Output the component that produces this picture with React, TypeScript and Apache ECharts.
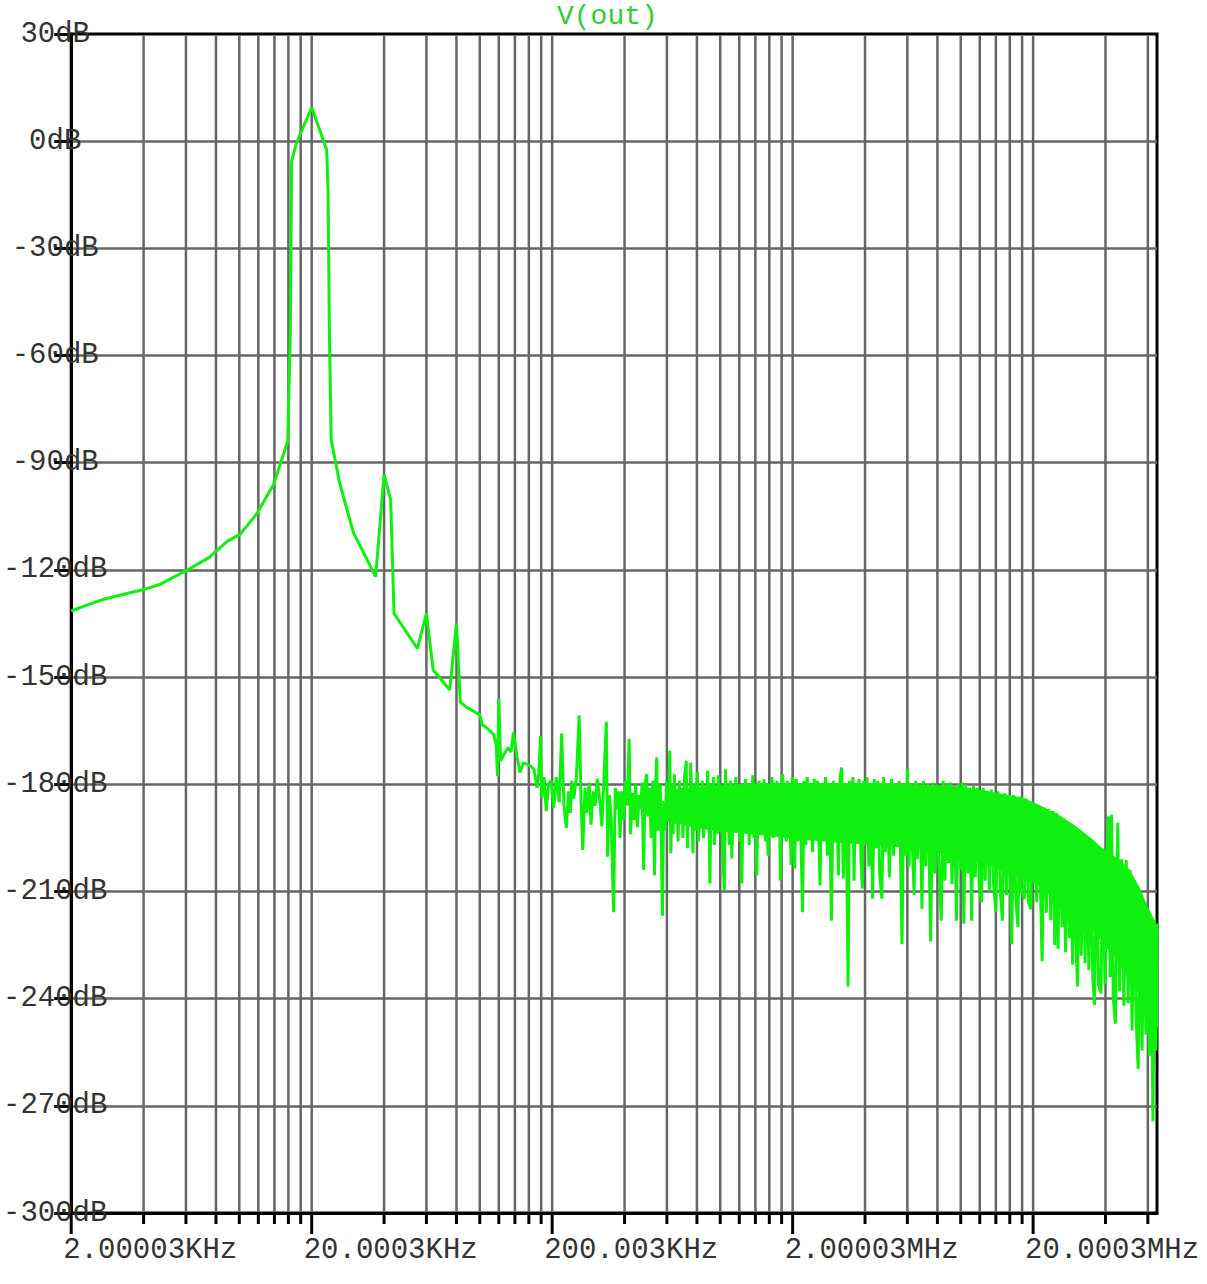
import React, { useEffect, useRef } from 'react';
import * as echarts from 'echarts';

// ---- data (frequency in kHz, level in dB) ----
const lowTrace: [number, number][] = [
  [2.0, -131.5], [2.4, -129.5], [2.8, -128], [4.0, -125.5], [4.7, -124], [6.1, -120], [7.5, -116.5],
  [8.9, -112], [10.1, -110], [11.9, -104], [13.9, -96], [15.9, -84], [16.3, -53.5], [16.5, -5.5],
  [17.3, -0.5], [20.0, 9.5], [23.1, -2.5], [23.4, -14.5], [23.7, -53.5], [24.1, -83.5], [26.1, -95.5],
  [29.8, -109.5], [36.9, -121.9], [40.0, -93.3], [42.6, -100.3], [44.0, -132.2], [55.0, -142],
  [60.0, -132.2], [64.0, -148], [75.0, -153.6], [80.0, -135], [83.0, -157], [88.0, -158.4],
  [95, -159.7], [100, -160.5], [102.6, -163.5],
];

const midTrace: [number, number][] = [
  [104, -163.6], [110, -165], [114, -166], [117, -168.8], [118.5, -177.7], [120, -156], [122, -173.4],
  [131, -169.7], [135, -171], [138, -165.5], [143, -172.5], [147, -176.7], [152, -174], [157, -174.4],
  [163, -175], [168, -175.8], [173, -181], [176, -177], [179, -166.5], [181, -183.8], [185, -178],
  [189, -187.5], [193, -180], [198, -179], [203, -186.6], [208, -178], [214, -185], [219, -165.8],
  [224, -186], [229, -192.3], [234, -182], [238, -188], [241, -179], [246, -184], [252, -178.5],
  [259, -160.7], [264, -185], [268, -198.4], [274, -181], [279, -188], [285, -179.5], [290, -191.3],
  [296, -182], [302, -186], [308, -178.5], [315, -184], [322, -191.8], [328, -179], [336, -162.5],
  [340, -200.3], [346, -183], [352, -190], [360, -215.8], [366, -181], [372, -187], [378, -182],
  [383, -195], [390, -182], [396, -190], [403, -179], [410, -186], [418, -167.3], [424, -194],
  [431, -182.4], [438, -190], [445, -180], [452, -192], [460, -183], [467, -187], [473, -179.5],
  [480, -204], [487, -180], [494, -177.2], [500, -189], [508, -181], [516, -195], [524, -179],
  [533, -205.5], [538, -182], [544, -172.5], [550, -193], [557, -185], [563, -180], [569, -198],
  [575, -216.8], [582, -184.7], [590, -193], [598, -179], [606, -188], [612, -181], [617, -170.6],
  [623, -199.3], [630, -180], [637, -194], [645, -177.2], [653, -191], [660, -183], [668, -196],
  [676, -179], [684, -190], [692, -181], [700, -195], [710, -178], [722, -173.4], [730, -197.9],
  [738, -181], [746, -191], [754, -173.9], [762, -186], [770, -199.3], [778, -180], [786, -193],
  [795, -182], [804, -176.5], [812, -196], [822, -184], [832, -190], [842, -179], [852, -195],
  [862, -181], [872, -192], [886, -176.2], [896, -185], [906, -207.8], [916, -180], [926, -191],
  [936, -178], [946, -197], [958, -182], [970, -194], [982, -177.5], [994, -189], [1006, -180],
  [1020, -196], [1040, -209.7], [1052, -175.8], [1064, -188], [1076, -181], [1090, -197], [1104, -179],
  [1118, -200.8], [1132, -183], [1146, -192], [1160, -178], [1175, -190], [1190, -181], [1205, -196],
  [1220, -180], [1230, -207.8], [1245, -182], [1260, -191], [1275, -178.5], [1290, -192.3], [1305, -180],
  [1320, -197], [1335, -182], [1350, -189], [1365, -177.5], [1380, -195], [1395, -180], [1420, -205.5],
  [1435, -183], [1450, -179], [1465, -193], [1480, -181], [1500, -191], [1520, -178.6], [1540, -196],
  [1560, -180], [1580, -200], [1600, -183], [1620, -190], [1640, -178], [1660, -195], [1680, -181],
  [1700, -193], [1720, -179], [1740, -190], [1760, -182], [1780, -206.9], [1800, -180], [1820, -177.2],
  [1840, -194], [1860, -182], [1880, -196], [1900, -179], [1920, -189], [1940, -181], [1970, -202.6],
  [1990, -178],
];

const highTrace: [number, number][] = [
  [2010, -179], [2040, -203.6], [2070, -178.5], [2100, -196], [2130, -180], [2160, -192], [2200, -215.8],
  [2230, -179], [2270, -197], [2300, -178], [2340, -190], [2380, -181], [2420, -199], [2460, -178.5],
  [2500, -193], [2540, -179], [2600, -208.3], [2640, -180], [2690, -194], [2740, -178], [2790, -200],
  [2840, -180], [2900, -218.2], [2950, -179], [3000, -195], [3050, -181], [3100, -205.5], [3150, -178],
  [3200, -175.3], [3250, -206.4], [3300, -180], [3350, -193], [3400, -236.6], [3450, -179], [3500, -196],
  [3560, -178], [3600, -207], [3660, -180], [3720, -195], [3780, -178.5], [3850, -201], [3900, -209.2],
  [3950, -179], [4020, -197], [4080, -178], [4150, -203], [4220, -180], [4300, -212], [4370, -178.5],
  [4440, -198], [4520, -179], [4600, -205], [4700, -212], [4780, -178], [4860, -199], [4950, -180],
  [5050, -206], [5150, -178.5], [5250, -200], [5350, -180], [5450, -197], [5550, -179], [5700, -224.8],
  [5800, -180], [5900, -200], [6000, -175.8], [6100, -203], [6200, -180], [6300, -198], [6400, -211],
  [6500, -179], [6600, -201], [6750, -180], [6900, -214.9], [7000, -179], [7150, -203], [7300, -180],
  [7500, -224], [7650, -179.5], [7800, -205], [7950, -180], [8100, -201], [8300, -218.2], [8450, -179],
  [8600, -207], [8750, -180], [8900, -202], [9050, -179.5], [9200, -208], [9400, -180.5], [9600, -218.2],
  [9800, -180], [10000, -204], [10150, -179.5], [10300, -219], [10500, -180], [10700, -205], [10900, -181],
  [11100, -218.2], [11300, -180.5], [11500, -206], [11700, -181], [11950, -209], [12200, -213],
  [12400, -181], [12650, -207], [12900, -182], [13150, -210], [13400, -181.5], [13700, -208],
  [14000, -215.8], [14300, -182], [14600, -209], [14900, -218.2], [15200, -182.5], [15500, -211],
  [15800, -183], [16300, -224.8], [16600, -183], [16950, -212], [17300, -220], [17600, -183.5],
  [17900, -210], [18400, -212], [18700, -184], [19100, -213], [19600, -215], [19900, -185],
  [20300, -186], [20700, -213], [21100, -186], [21800, -229.5], [22200, -186.5], [22700, -216],
  [23200, -187], [23700, -218], [24200, -187.5], [24600, -225], [25000, -188], [25400, -226],
  [25900, -189], [26400, -220], [26800, -189.5], [27300, -227], [27800, -190.5], [28300, -223],
  [28700, -192], [29200, -230.5], [29700, -192.5], [30200, -226], [30600, -236.6], [31100, -193.5],
  [31700, -228], [32300, -195], [32900, -230], [33500, -195.5], [34100, -232], [34700, -196.5],
  [35400, -234], [36000, -241.8], [36600, -197], [37400, -236], [38300, -238.5], [39000, -198],
  [39800, -236], [40600, -199], [41200, -189], [41800, -234], [42400, -188.5], [43100, -240],
  [44000, -247], [45000, -190.8], [45800, -238], [46700, -201], [47700, -242], [48800, -201.2],
  [49700, -241.3], [50600, -204], [51600, -248.9], [52600, -207], [53600, -245], [54700, -259.7],
  [55700, -210], [56800, -254.5], [57800, -213], [58900, -250], [59900, -215], [60900, -256],
  [61900, -217], [63000, -274.3], [64000, -218], [64800, -254.5], [65500, -219],
];

// dense noise body (envelope of the solid band)
const bandFreqMHz = [0.6, 0.8, 1.0, 1.5, 2, 3, 5, 7, 10, 12.5, 15, 18, 21, 25, 30, 35, 40, 45, 50, 55, 60, 65.5];
const bandUpperDb = [-182, -181, -180.5, -180, -180, -180, -180, -180.5, -181, -182, -183, -184, -186, -188.5, -192, -195.5, -199, -201, -204, -209, -215, -220];
const bandLowerDb = [-190, -192, -193, -194, -195, -196, -197, -198, -200, -202, -204, -206, -208, -212, -216, -220, -225, -229, -234, -238, -242, -248];

// x grid / tick positions (kHz)
const xTickKHz = [2, 4, 6, 8, 10, 12, 14, 16, 18, 20, 40, 60, 80, 100, 120, 140, 160, 180, 200, 400, 600, 800,
  1000, 1200, 1400, 1600, 1800, 2000, 4000, 6000, 8000, 10000, 12000, 14000, 16000, 18000, 20000, 40000, 60000];
const xMajorKHz = [2, 20, 200, 2000, 20000];
const xMajorLabels = ['2.00003KHz', '20.0003KHz', '200.003KHz', '2.00003MHz', '20.0003MHz'];

const Y_MIN = -300;
const Y_MAX = 30;
const Y_STEP = 30;
const X_MIN_HZ = 2000;
const X_MAX_HZ = 65.5e6;

const GREEN = '#0ff00f';
const GRID_GRAY = '#666666';
const FONT = '"Liberation Mono", "Courier New", monospace';

export default function App() {
  const ref = useRef<HTMLDivElement>(null);

  useEffect(() => {
    if (!ref.current) return;
    const chart = echarts.init(ref.current, undefined, { renderer: 'svg' });

    const trace = [...lowTrace, ...midTrace, ...highTrace].map(([k, db]) => [k * 1000, db]);
    const bandData = bandFreqMHz.map((m, i) => [m * 1e6, bandUpperDb[i], bandLowerDb[i]]);
    const tickData = xTickKHz.map((k) => [k * 1000, Y_MIN, xMajorKHz.indexOf(k)]);

    chart.setOption({
      animation: false,
      backgroundColor: '#ffffff',
      title: {
        text: 'V(out)',
        left: 557,
        top: 2,
        padding: 0,
        textStyle: { fontFamily: FONT, fontSize: 28, fontWeight: 'normal', color: '#33cc33' },
      },
      grid: {
        left: 70,
        right: 50,
        top: 34,
        bottom: 71,
        show: true,
        borderColor: '#000',
        borderWidth: 3,
        backgroundColor: 'transparent',
      },
      xAxis: {
        type: 'log',
        logBase: 10,
        min: X_MIN_HZ,
        max: X_MAX_HZ,
        axisLine: { show: true, onZero: false, lineStyle: { color: '#000', width: 3 } },
        axisTick: { show: false },
        axisLabel: { show: false },
        splitLine: { show: false },
        minorTick: { show: false },
        minorSplitLine: { show: false },
      },
      yAxis: {
        type: 'value',
        min: Y_MIN,
        max: Y_MAX,
        interval: Y_STEP,
        axisLine: { show: true, onZero: false, lineStyle: { color: '#000', width: 3 } },
        axisTick: { show: true, length: 17, lineStyle: { color: '#000', width: 3 } },
        axisLabel: {
          formatter: '{value}dB',
          fontFamily: FONT,
          fontSize: 29,
          color: '#333',
          align: 'center',
          margin: 16,
          showMinLabel: true,
          showMaxLabel: true,
        },
        splitLine: { show: true, showMinLine: false, showMaxLine: false, lineStyle: { color: GRID_GRAY, width: 2.5 } },
      },
      series: [
        {
          type: 'custom',
          z: 1,
          silent: true,
          clip: false,
          encode: { x: 0, y: 1 },
          data: tickData,
          renderItem: (params: any, api: any) => {
            const f = api.value(0);
            const idx = api.value(2);
            const pb = api.coord([f, Y_MIN]);
            const pt = api.coord([f, Y_MAX]);
            const major = idx >= 0;
            const children: any[] = [];
            if (params.dataIndex !== 0) {
              children.push({
                type: 'line',
                shape: { x1: pb[0], y1: pb[1] - 1.5, x2: pt[0], y2: pt[1] + 1.5 },
                style: { stroke: GRID_GRAY, lineWidth: 2.5 },
              });
            }
            children.push({
              type: 'line',
              shape: { x1: pb[0], y1: pb[1], x2: pb[0], y2: pb[1] + (major ? 21 : 11) },
              style: { stroke: '#000', lineWidth: 3 },
            });
            if (major) {
              children.push({
                type: 'text',
                x: pb[0] - 8,
                y: pb[1] + 37,
                style: {
                  text: xMajorLabels[idx],
                  fontFamily: FONT,
                  fontSize: 29,
                  fill: '#333',
                  align: 'left',
                  verticalAlign: 'middle',
                },
              });
            }
            return { type: 'group', children };
          },
        },
        {
          type: 'custom',
          name: 'band',
          z: 2,
          silent: true,
          clip: true,
          encode: { x: 0, y: 1 },
          data: bandData,
          renderItem: (params: any, api: any) => {
            if (params.dataIndex !== 0) return null;
            const upper = bandData.map((d) => api.coord([d[0], d[1]]));
            const lower = bandData.map((d) => api.coord([d[0], d[2]])).reverse();
            return {
              type: 'polygon',
              shape: { points: [...upper, ...lower] },
              style: { fill: GREEN, stroke: GREEN, lineWidth: 2 },
            };
          },
        },
        {
          type: 'line',
          name: 'V(out)',
          data: trace,
          showSymbol: false,
          symbol: 'none',
          silent: true,
          lineStyle: { color: GREEN, width: 3 },
          z: 3,
        },
      ],
    });

    return () => chart.dispose();
  }, []);

  return (
    <div
      ref={ref}
      style={{ position: 'absolute', left: 0, top: 0, width: 1207, height: 1284, background: '#fff' }}
    />
  );
}
